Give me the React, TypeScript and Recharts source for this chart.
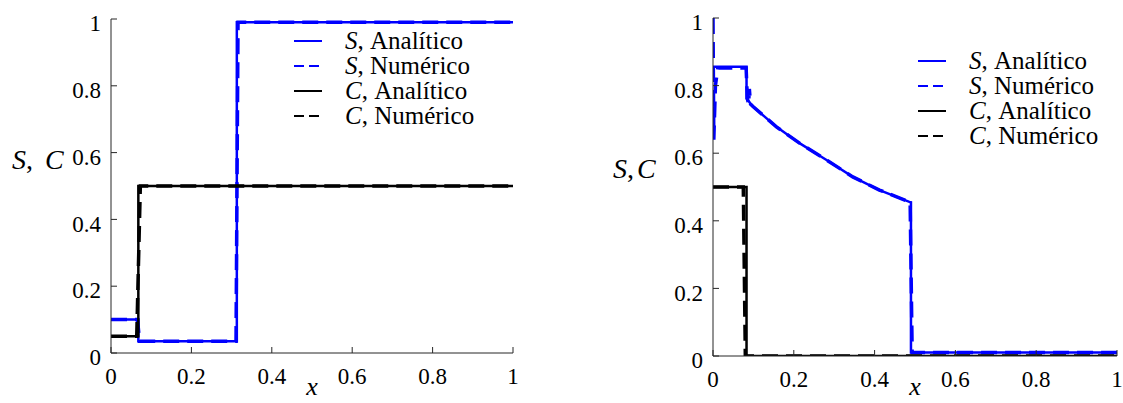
import { LineChart, Line, XAxis, YAxis, Legend } from 'recharts'

// ---- left panel: S and C profiles, analytic vs numeric ----
const leftSAnaX = [0, 0.068, 0.068, 0.313, 0.313, 1]
const leftSAnaY = [0.1, 0.1, 0.035, 0.035, 0.99, 0.99]
const leftSNumX = [0, 0.066, 0.071, 0.311, 0.316, 1]
const leftSNumY = [0.1, 0.1, 0.035, 0.035, 0.99, 0.99]
const leftCAnaX = [0, 0.068, 0.068, 1]
const leftCAnaY = [0.05, 0.05, 0.5, 0.5]
const leftCNumX = [0, 0.064, 0.073, 1]
const leftCNumY = [0.05, 0.05, 0.5, 0.5]

// ---- right panel ----
const rightSAnaX = [0, 0.083, 0.083, 0.099, 0.157, 0.215, 0.281, 0.346, 0.412, 0.486, 0.49, 0.49, 1]
const rightSAnaY = [0.856, 0.856, 0.762, 0.738, 0.678, 0.629, 0.58, 0.53, 0.491, 0.456, 0.455, 0.01, 0.01]
const rightSNumX = [0, 0.002, 0.006, 0.012, 0.082, 0.085, 0.088, 0.09, 0.093, 0.099, 0.157, 0.215, 0.281, 0.346, 0.412, 0.486, 0.488, 0.493, 1]
const rightSNumY = [1, 0.64, 0.8, 0.852, 0.852, 0.762, 0.745, 0.79, 0.745, 0.738, 0.678, 0.629, 0.58, 0.53, 0.491, 0.456, 0.45, 0.01, 0.01]
const rightCAnaX = [0, 0.083, 0.083, 1]
const rightCAnaY = [0.5, 0.5, 0, 0]
const rightCNumX = [0, 0.075, 0.08, 1]
const rightCNumY = [0.5, 0.5, 0, 0]

const xTicks = [0, 0.2, 0.4, 0.6, 0.8, 1]
const yTicks = [0, 0.2, 0.4, 0.6, 0.8, 1]

const serif = 'Liberation Serif, DejaVu Serif, serif'
const axisColor = '#262626'
const blue = '#0000ff'

const toPoints = (xs: number[], ys: number[]) => xs.map((x, i) => ({ x, y: ys[i] }))

type Series = { key: string; sym: string; label: string; color: string; dashed: boolean; data: { x: number; y: number }[] }

const leftSeries: Series[] = [
  { key: 'sa', sym: 'S', label: 'Analítico', color: blue, dashed: false, data: toPoints(leftSAnaX, leftSAnaY) },
  { key: 'sn', sym: 'S', label: 'Numérico', color: blue, dashed: true, data: toPoints(leftSNumX, leftSNumY) },
  { key: 'ca', sym: 'C', label: 'Analítico', color: '#000', dashed: false, data: toPoints(leftCAnaX, leftCAnaY) },
  { key: 'cn', sym: 'C', label: 'Numérico', color: '#000', dashed: true, data: toPoints(leftCNumX, leftCNumY) },
]

const rightSeries: Series[] = [
  { key: 'sa', sym: 'S', label: 'Analítico', color: blue, dashed: false, data: toPoints(rightSAnaX, rightSAnaY) },
  { key: 'sn', sym: 'S', label: 'Numérico', color: blue, dashed: true, data: toPoints(rightSNumX, rightSNumY) },
  { key: 'ca', sym: 'C', label: 'Analítico', color: '#000', dashed: false, data: toPoints(rightCAnaX, rightCAnaY) },
  { key: 'cn', sym: 'C', label: 'Numérico', color: '#000', dashed: true, data: toPoints(rightCNumX, rightCNumY) },
]

function CurveLegend({ items }: { items: Series[] }) {
  return (
    <div style={{ fontFamily: serif, fontSize: 25, color: '#000' }}>
      {items.map((it) => (
        <div key={it.key} style={{ display: 'flex', alignItems: 'center', height: 24.8 }}>
          <svg width={28} height={10}>
            <line x1={0} y1={5} x2={28} y2={5} stroke={it.color} strokeWidth={2}
              strokeDasharray={it.dashed ? '10 5' : undefined} />
          </svg>
          <span style={{ marginLeft: 23, whiteSpace: 'nowrap' }}>
            <i>{it.sym}</i>,&nbsp;{it.label}
          </span>
        </div>
      ))}
    </div>
  )
}

type PanelProps = {
  series: Series[]
  width: number
  margin: { top: number; right: number; bottom: number; left: number }
  legendPos: { left: number; top: number }
  yTitle: string
  yTitleDx: number
  yTitleY: number
  yTitleGap: number
}

function Panel({ series, width, margin, legendPos, yTitle, yTitleDx, yTitleY, yTitleGap }: PanelProps) {
  const tickStyle = { fontFamily: serif, fontSize: 23, fill: '#000' }
  return (
    <LineChart width={width} height={403} margin={margin} style={{ fontFamily: serif }}>
      <XAxis xAxisId="b" type="number" dataKey="x" domain={[0, 1]} ticks={xTicks} allowDataOverflow
        height={30} tickSize={-6} tickMargin={21} stroke={axisColor} tick={tickStyle}
        tickFormatter={(v: number) => String(v)}
        label={{
          content: (p: any) => (
            <text x={p.viewBox.x + p.viewBox.width / 2} y={395} textAnchor="middle"
              fontFamily={serif} fontSize={26} fontStyle="italic">x</text>
          ),
        }} />
      <XAxis xAxisId="t" orientation="top" type="number" dataKey="x" domain={[0, 1]} ticks={xTicks}
        height={0} tickSize={-6} stroke={axisColor} tick={false} />
      <YAxis yAxisId="l" type="number" domain={[0, 1]} ticks={yTicks} allowDataOverflow width={50}
        tickSize={-6} tickMargin={16} stroke={axisColor} tick={{ ...tickStyle, dy: 4 }}
        tickFormatter={(v: number) => String(v)}
        label={{
          content: (p: any) => {
            const parts = yTitle.split(',')
            return (
              <text x={p.viewBox.x + p.viewBox.width + yTitleDx} y={yTitleY} fontFamily={serif} fontSize={28}>
                <tspan fontStyle="italic">{parts[0]}</tspan>
                <tspan>{','}</tspan>
                <tspan fontStyle="italic" dx={yTitleGap}>{parts[1].trim()}</tspan>
              </text>
            )
          },
        }} />
      <YAxis yAxisId="r" orientation="right" type="number" domain={[0, 1]} ticks={yTicks} width={0}
        tickSize={-6} stroke={axisColor} tick={false} />
      <Legend content={() => <CurveLegend items={series} />} layout="vertical" align="center"
        verticalAlign="middle" wrapperStyle={{ left: legendPos.left, top: legendPos.top, width: 'auto' }} />
      {series.map((s) => (
        <Line key={s.key} xAxisId="b" yAxisId="l" data={s.data} dataKey="y" name={`${s.sym}, ${s.label}`}
          type="linear" stroke={s.color} strokeWidth={s.dashed ? 3.5 : 2.5}
          strokeDasharray={s.dashed ? '16 8' : undefined} dot={false} isAnimationActive={false} />
      ))}
    </LineChart>
  )
}

export default function App() {
  return (
    <div style={{ position: 'absolute', left: 0, top: 0, width: 1123, height: 403, background: '#fff' }}>
      <div style={{ position: 'absolute', left: 0, top: 0 }}>
        <Panel series={leftSeries} width={560} margin={{ top: 19, right: 47, bottom: 20, left: 61 }}
          legendPos={{ left: 294, top: 29 }} yTitle="S, C" yTitleDx={-99} yTitleY={169} yTitleGap={12} />
      </div>
      <div style={{ position: 'absolute', left: 560, top: 0 }}>
        <Panel series={rightSeries} width={563} margin={{ top: 18, right: 6, bottom: 17, left: 103 }}
          legendPos={{ left: 358, top: 49 }} yTitle="S,C" yTitleDx={-100} yTitleY={178} yTitleGap={3} />
      </div>
    </div>
  )
}
